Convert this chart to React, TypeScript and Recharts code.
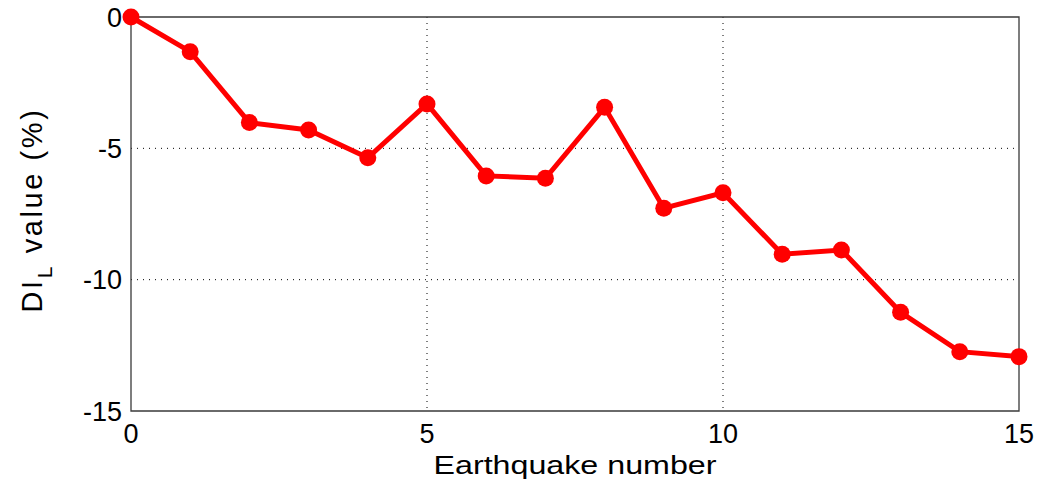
import { LineChart, Line, XAxis, YAxis, CartesianGrid, ReferenceArea, Label } from "recharts";

const quakes = [0, 1, 2, 3, 4, 5, 6, 7, 8, 9, 10, 11, 12, 13, 14, 15];
const diValues = [0, -1.32, -4.02, -4.3, -5.36, -3.31, -6.05, -6.14, -3.44, -7.28, -6.69, -9.03, -8.87, -11.24, -12.74, -12.93];
const xTicks = [0, 5, 10, 15];
const yTicks = [-15, -10, -5, 0];

const data = quakes.map((q, i) => ({ quake: q, di: diValues[i] }));

const FONT = '"Liberation Sans", Arial, sans-serif';

function XTitle(props: any) {
  const { x, y, width } = props.viewBox;
  return (
    <text
      x={x + width / 2}
      y={y + 63}
      textAnchor="middle"
      fontSize={26}
      textLength={283}
      lengthAdjust="spacingAndGlyphs"
      fill="#000"
      fontFamily={FONT}
    >
      Earthquake number
    </text>
  );
}

function YTitle(props: any) {
  const { y, height } = props.viewBox;
  return (
    <text transform={`translate(42,${y + height / 2 - 4}) rotate(-90)`} x={0} y={0} textAnchor="middle" fontSize={29} letterSpacing={2.6} fill="#000" fontFamily={FONT}>
      DI
      <tspan dy={10} fontSize={21}>L</tspan>
      <tspan dy={-10}> value (%)</tspan>
    </text>
  );
}

function StarDot(props: any) {
  const { cx, cy } = props;
  if (cx == null || cy == null) return null;
  return <circle cx={cx} cy={cy} r={8.5} fill="#ff0000" stroke="none" />;
}

export default function App() {
  return (
    <div style={{ width: 1052, height: 494, background: "#fff" }}>
      <style>{`body{margin:0}`}</style>
      <LineChart width={1052} height={494} data={data} margin={{ top: 17, right: 33, bottom: 0, left: 0 }}>
        <CartesianGrid stroke="#000" strokeDasharray="1 5" verticalValues={[5, 10]} horizontalValues={[-5, -10]} />
        <XAxis
          dataKey="quake"
          type="number"
          domain={[0, 15]}
          ticks={xTicks}
          height={83}
          axisLine={false}
          tickLine={false}
          tickSize={0}
          tickMargin={13}
          tick={{ fill: "#000", fontSize: 27, fontFamily: FONT }}
        >
          <Label content={XTitle} />
        </XAxis>
        <YAxis
          type="number"
          domain={[-15, 0]}
          ticks={yTicks}
          width={131}
          axisLine={false}
          tickLine={false}
          tickSize={0}
          tickMargin={9}
          tick={{ fill: "#000", fontSize: 27, fontFamily: FONT }}
        >
          <Label content={YTitle} />
        </YAxis>
        <ReferenceArea x1={0} x2={15} y1={-15} y2={0} fill="none" stroke="#3a3a3a" strokeWidth={1.3} fillOpacity={0} />
        <Line
          type="linear"
          dataKey="di"
          stroke="#ff0000"
          strokeWidth={5}
          dot={<StarDot />}
          activeDot={false}
          isAnimationActive={false}
        />
      </LineChart>
    </div>
  );
}
